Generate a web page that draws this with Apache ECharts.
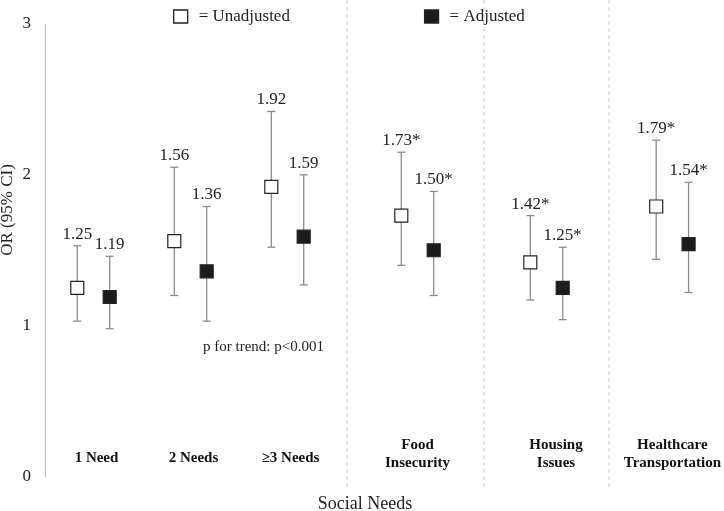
<!DOCTYPE html>
<html><head><meta charset="utf-8">
<script src="https://cdn.jsdelivr.net/npm/echarts@6/dist/echarts.min.js"></script>
<style>html,body{margin:0;padding:0;background:#fff}#c{width:724px;height:511px}</style>
</head><body><div id="c"></div>
<script>
// ---- data ----
const categories = ['1 Need', '2 Needs', '≥3 Needs', 'Food\nInsecurity', 'Housing\nIssues', 'Healthcare\nTransportation'];
const unadjOR   = [1.25, 1.56, 1.92, 1.73, 1.42, 1.79];
const unadjLow  = [1.03, 1.20, 1.52, 1.40, 1.17, 1.44];
const unadjHigh = [1.53, 2.05, 2.42, 2.15, 1.73, 2.23];
const adjOR     = [1.19, 1.36, 1.59, 1.50, 1.25, 1.54];
const adjLow    = [0.98, 1.03, 1.27, 1.20, 1.04, 1.22];
const adjHigh   = [1.46, 1.79, 2.00, 1.89, 1.52, 1.95];
const significant = [false, false, false, true, true, true];
const yTicks = [0, 1, 2, 3];
const panels = [[0, 1, 2], [3], [4], [5]];

// ---- layout / style ----
const FONT = 'Liberation Serif';
const gridBoxes = [
  {left: 45, width: 291},
  {left: 357.5, width: 120},
  {left: 486.5, width: 120},
  {left: 631, width: 90}
];
const labelMargins = [18, 22, 22, 22];
const labelPads = [[0,0,0,6],[0,0,0,0],[0,0,0,19],[0,0,0,0]];
const PAIR = 16.2;

function fmt(v, i) { return v.toFixed(2) + (significant[i] ? '*' : ''); }

function makeRender(offset, filled) {
  return function (params, api) {
    const cat = api.value(0);
    const c = api.coord([cat, api.value(1)]);
    const lo = api.coord([cat, api.value(2)]);
    const hi = api.coord([cat, api.value(3)]);
    const x = c[0] + offset;
    const cap = 4, s = 6.5;
    const ls = {stroke: '#8c8c8c', lineWidth: 1.3};
    const idx = api.value(4);
    const val = api.value(1);
    return {
      type: 'group',
      children: [
        {type: 'line', shape: {x1: x, y1: lo[1], x2: x, y2: hi[1]}, style: ls},
        {type: 'line', shape: {x1: x - cap, y1: hi[1], x2: x + cap, y2: hi[1]}, style: ls},
        {type: 'line', shape: {x1: x - cap, y1: lo[1], x2: x + cap, y2: lo[1]}, style: ls},
        {type: 'rect', shape: {x: x - s, y: c[1] - s, width: 2 * s, height: 2 * s},
          style: {fill: filled ? '#1c1c1c' : '#ffffff', stroke: '#222', lineWidth: 1.2}},
        {type: 'text', x: x, y: hi[1] - 3,
          style: {text: fmt(val, idx), align: 'center', verticalAlign: 'bottom',
            font: '17px "' + FONT + '"', fill: '#222'}}
      ]
    };
  };
}

const grid = [], xAxis = [], yAxis = [], series = [];
panels.forEach(function (p, g) {
  grid.push({left: gridBoxes[g].left, width: gridBoxes[g].width, top: 24, bottom: 34.5, containLabel: false});
  xAxis.push({
    type: 'category', gridIndex: g,
    data: p.map(function (i) { return categories[i]; }),
    axisLine: {show: false}, axisTick: {show: false}, splitLine: {show: false},
    axisLabel: {inside: true, margin: labelMargins[g], verticalAlign: 'middle', interval: 0,
      fontFamily: FONT, fontWeight: 'bold', fontSize: 15, lineHeight: 18, color: '#111',
      padding: labelPads[g]}
  });
  yAxis.push({
    type: 'value', gridIndex: g, min: yTicks[0], max: yTicks[yTicks.length - 1], interval: 1,
    show: g === 0,
    axisLine: {show: true, lineStyle: {color: '#bdbdbd', width: 1}},
    axisTick: {show: false}, splitLine: {show: false},
    axisLabel: {fontFamily: FONT, fontSize: 17, color: '#222', margin: 14}
  });
  series.push({
    name: 'Unadjusted', type: 'custom', xAxisIndex: g, yAxisIndex: g, clip: false,
    itemStyle: {color: '#ffffff', borderColor: '#222'},
    renderItem: makeRender(-PAIR, false),
    data: p.map(function (i) { return [categories[i], unadjOR[i], unadjLow[i], unadjHigh[i], i]; })
  });
  series.push({
    name: 'Adjusted', type: 'custom', xAxisIndex: g, yAxisIndex: g, clip: false,
    itemStyle: {color: '#1c1c1c'},
    renderItem: makeRender(PAIR, true),
    data: p.map(function (i) { return [categories[i], adjOR[i], adjLow[i], adjHigh[i], i]; })
  });
});

const sepX = [347, 484, 609];
const graphic = sepX.map(function (x) {
  return {type: 'line', shape: {x1: x, y1: 0, x2: x, y2: 487},
    style: {stroke: '#c8c8c8', lineWidth: 1, lineDash: [4, 3]}, z: -1};
});
graphic.push({type: 'text', x: 8, y: 210, rotation: Math.PI / 2,
  style: {text: 'OR (95% CI)', align: 'center', verticalAlign: 'middle', font: '17px "' + FONT + '"', fill: '#222'}});
graphic.push({type: 'text', x: 365, y: 504,
  style: {text: 'Social Needs', align: 'center', verticalAlign: 'middle', font: '18px "' + FONT + '"', fill: '#222'}});
graphic.push({type: 'text', x: 203, y: 347,
  style: {text: 'p for trend: p<0.001', align: 'left', verticalAlign: 'middle', font: '15px "' + FONT + '"', fill: '#222'}});

const chart = echarts.init(document.getElementById('c'), null, {renderer: 'canvas'});
chart.setOption({
  backgroundColor: '#fff',
  animation: false,
  legend: {
    left: 168, top: 3, itemWidth: 14, itemHeight: 13, itemGap: 134,
    data: [
      {name: 'Unadjusted', icon: 'rect', itemStyle: {color: '#ffffff', borderColor: '#222', borderWidth: 1.3}},
      {name: 'Adjusted', icon: 'rect', itemStyle: {color: '#1c1c1c', borderColor: '#222', borderWidth: 1.3}}
    ],
    formatter: function (n) { return '= ' + n; },
    textStyle: {fontFamily: FONT, fontSize: 17, color: '#222', padding: [0, 0, 0, 6]}
  },
  grid: grid, xAxis: xAxis, yAxis: yAxis, series: series, graphic: graphic
});
</script></body></html>
